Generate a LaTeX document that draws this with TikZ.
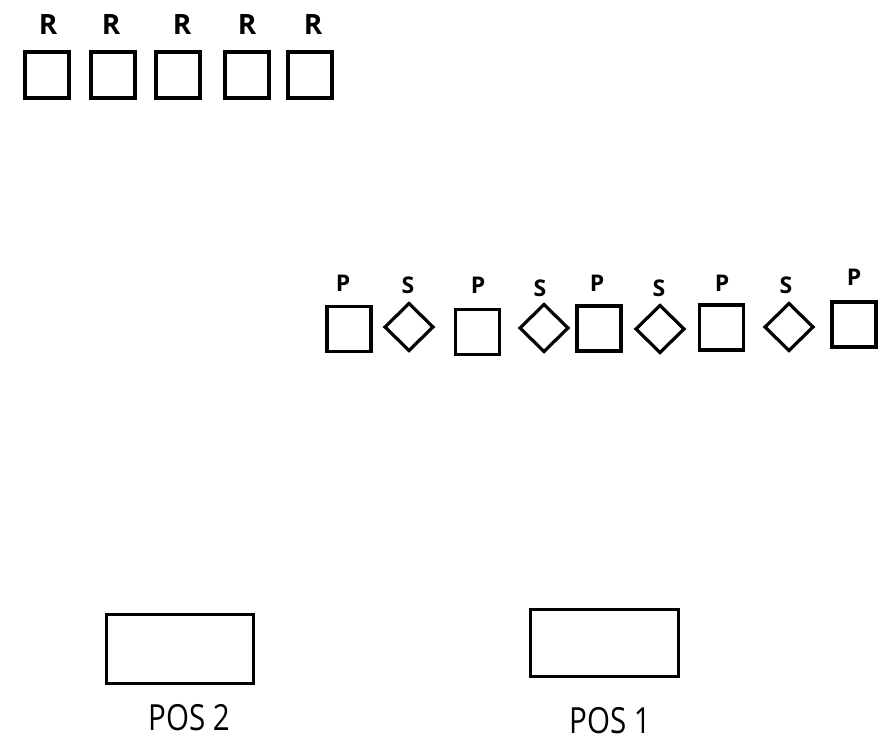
\documentclass[tikz,border=0pt]{standalone}
\usepackage{fontspec}
\setmainfont{Open Sans}
\usetikzlibrary{shapes.geometric}
\begin{document}
\begin{tikzpicture}[x=1pt,y=-1pt,
  box/.style={draw,line width=4pt,minimum width=44pt,minimum height=46pt,inner sep=0pt,outer sep=0pt},
  sqbox/.style={draw,line width=3.6pt,minimum width=44pt,minimum height=45pt,inner sep=0pt,outer sep=0pt},
  dia/.style={draw,diamond,line width=3.2pt,minimum width=48pt,minimum height=47pt,inner sep=0pt,outer sep=0pt},
  posbox/.style={draw,line width=3.6pt,inner sep=0pt,outer sep=0pt},
  rlab/.style={inner sep=0pt,font=\fontsize{28}{30}\selectfont\bfseries},
  plab/.style={inner sep=0pt,font=\fontsize{23}{26}\selectfont\bfseries},
  poslab/.style={inner sep=0pt,font=\fontsize{36}{40}\selectfont,xscale=0.82,transform shape}
]
\useasboundingbox (0,0) rectangle (887,744);
% top row
\node[box] (r1) at (47,75) {};
\node[box] (r2) at (113,75) {};
\node[box] (r3) at (177.5,75) {};
\node[box] (r4) at (246.5,75) {};
\node[box] (r5) at (309.5,75) {};
\node[rlab] (lr1) at (48,25) {R};
\node[rlab] (lr2) at (111,25) {R};
\node[rlab] (lr3) at (182,25) {R};
\node[rlab] (lr4) at (247,25) {R};
\node[rlab] (lr5) at (313,25) {R};
% middle row
\node[sqbox] (p1) at (349,329) {};
\node[dia] (s1) at (409,327) {};
\node[sqbox] (p2) at (477.5,332) {};
\node[dia] (s2) at (544,328) {};
\node[sqbox] (p3) at (599,328.5) {};
\node[dia] (s3) at (660,329) {};
\node[sqbox] (p4) at (721.5,327.5) {};
\node[dia] (s4) at (789,327) {};
\node[sqbox] (p5) at (854,324.5) {};
\node[plab] (lp1) at (343,283) {P};
\node[plab] (ls1) at (408,285) {S};
\node[plab] (lp2) at (478,285) {P};
\node[plab] (ls2) at (540,288) {S};
\node[plab] (lp3) at (597,283) {P};
\node[plab] (ls3) at (659,288) {S};
\node[plab] (lp4) at (722,283) {P};
\node[plab] (ls4) at (786,285) {S};
\node[plab] (lp5) at (854,277) {P};
% bottom
\node[posbox,minimum width=147pt,minimum height=69pt] (pos2) at (180,649) {};
\node[posbox,minimum width=148pt,minimum height=67pt] (pos1) at (604.5,643) {};
\node[poslab] (lpos2) at (189,718) {POS 2};
\node[poslab] (lpos1) at (610,721) {POS 1};
\end{tikzpicture}
\end{document}
